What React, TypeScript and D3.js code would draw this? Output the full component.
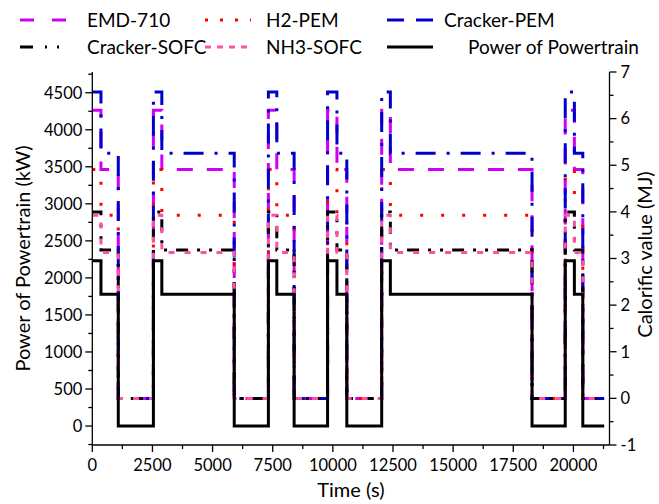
import React from "react";
import * as d3 from "d3";

// Step boundaries of the driving cycle (s)
const stepTimes = [0, 360, 1080, 2540, 2890, 5900, 7320, 7670, 8390, 9780, 10170, 10580, 12030, 12390, 18280, 19660, 20040, 20390, 21280];

// Values per segment
const powertrainKW = [2230, 1780, 0, 2230, 1780, 0, 2230, 1780, 0, 2230, 1780, 0, 2230, 1780, 0, 2230, 1780, 0];
const emd710MJ = [6.18, 4.91, 0, 6.18, 4.91, 0, 6.18, 4.91, 0, 6.18, 4.91, 0, 6.18, 4.91, 0, 6.18, 4.91, 0];
const h2PemMJ = [4.91, 3.93, 0, 4.91, 3.93, 0, 4.91, 3.93, 0, 4.91, 3.93, 0, 4.91, 3.93, 0, 4.91, 3.93, 0];
const crackerPemMJ = [6.57, 5.26, 0, 6.57, 5.26, 0, 6.57, 5.26, 0, 6.57, 5.26, 0, 6.57, 5.26, 0, 6.57, 5.26, 0];
const crackerSofcMJ = [4.0, 3.18, 0, 4.0, 3.18, 0, 4.0, 3.18, 0, 4.0, 3.18, 0, 4.0, 3.18, 0, 4.0, 3.18, 0];
const nh3SofcMJ = [3.93, 3.13, 0, 3.93, 3.13, 0, 3.93, 3.13, 0, 3.93, 3.13, 0, 3.93, 3.13, 0, 3.93, 3.13, 0];

const xTicks = [0, 2500, 5000, 7500, 10000, 12500, 15000, 17500, 20000];
const leftTicks = [0, 500, 1000, 1500, 2000, 2500, 3000, 3500, 4000, 4500];
const rightTicks = [-1, 0, 1, 2, 3, 4, 5, 6, 7];

const W = 659, H = 504;
const L = 92.3, R = 609.5, T = 72, B = 445;
const FONT = "Lato, 'Open Sans', sans-serif";

type S = { name: string; values: number[]; axis: "left" | "right"; color: string; dash: string; width: number };

const series: S[] = [
  { name: "EMD-710", values: emd710MJ, axis: "right", color: "#D000F8", dash: "16 14", width: 3 },
  { name: "H2-PEM", values: h2PemMJ, axis: "right", color: "#FF0000", dash: "3 18", width: 3 },
  { name: "Cracker-PEM", values: crackerPemMJ, axis: "right", color: "#0000CC", dash: "20 11 3 11", width: 3 },
  { name: "Cracker-SOFC", values: crackerSofcMJ, axis: "right", color: "#000000", dash: "12 9 3 9 3 9", width: 3 },
  { name: "NH3-SOFC", values: nh3SofcMJ, axis: "right", color: "#FF50A8", dash: "6 10", width: 3 },
  { name: "Power of Powertrain", values: powertrainKW, axis: "left", color: "#000000", dash: "", width: 3 },
];

const legendOrder = ["EMD-710", "H2-PEM", "Cracker-PEM", "Cracker-SOFC", "NH3-SOFC", "Power of Powertrain"];
const legendDash: Record<string, string> = {
  "EMD-710": "14 18",
  "H2-PEM": "3 12",
  "Cracker-PEM": "17 12",
  "Cracker-SOFC": "13 12 2 10 2 10",
  "NH3-SOFC": "6 6",
  "Power of Powertrain": "",
};

export default function App() {
  const x = d3.scaleLinear().domain([0, 21500]).range([L, R]);
  const yL = d3.scaleLinear().domain([-256, 4780]).range([B, T]);
  const yR = d3.scaleLinear().domain([-1, 7]).range([B, T]);

  const pathFor = (s: S) => {
    const y = s.axis === "left" ? yL : yR;
    const pts: [number, number][] = s.values.map((v, i) => [stepTimes[i], v]);
    pts.push([stepTimes[stepTimes.length - 1], s.values[s.values.length - 1]]);
    return d3.line<[number, number]>().x(d => x(d[0])).y(d => y(d[1])).curve(d3.curveStepAfter)(pts) || "";
  };

  const xMinor = d3.range(0, 21500, 1250);
  const lMinor = d3.range(-250, 4780, 250);
  const rMinor = d3.range(-1, 7.01, 0.5);

  const legendCols = [
    { sx: 20, tx: 87 },
    { sx: 205, tx: 266 },
    { sx: 387, tx: 444 },
  ];
  const legendRows = [20, 47];

  return (
    <svg width={W} height={H} style={{ position: "absolute", left: 0, top: 0, background: "#fff" }} fontFamily={FONT}>
      <rect width={W} height={H} fill="#fff" />
      {/* data lines */}
      {series.filter(s => s.axis === "right").map(s => (
        <path key={s.name} d={pathFor(s)} fill="none" stroke={s.color} strokeWidth={s.width} strokeDasharray={s.dash || undefined} strokeLinejoin="miter" />
      ))}
      {series.filter(s => s.axis === "left").map(s => (
        <path key={s.name} d={pathFor(s)} fill="none" stroke={s.color} strokeWidth={s.width} strokeLinejoin="miter" />
      ))}

      {/* axes lines */}
      <line x1={L} x2={L} y1={T} y2={B} stroke="#000" strokeWidth={1.3} />
      <line x1={R} x2={R} y1={T} y2={B} stroke="#000" strokeWidth={1.3} />
      <line x1={L} x2={R} y1={B} y2={B} stroke="#000" strokeWidth={1.3} />

      {/* x ticks */}
      {xMinor.map(t => (
        <line key={"xm" + t} x1={x(t)} x2={x(t)} y1={B} y2={B + (t % 2500 === 0 ? 7 : 4)} stroke="#000" strokeWidth={1.3} />
      ))}
      {xTicks.map(t => (
        <text key={"xt" + t} x={x(t)} y={B + 26} textAnchor="middle" fontSize={16.5}>{t}</text>
      ))}

      {/* left ticks */}
      {lMinor.map(v => (
        <line key={"lm" + v} x1={L} x2={L - (v % 500 === 0 ? 7 : 4)} y1={yL(v)} y2={yL(v)} stroke="#000" strokeWidth={1.3} />
      ))}
      {leftTicks.map(v => (
        <text key={"lt" + v} x={L - 10} y={yL(v)} dy="0.35em" textAnchor="end" fontSize={16.5}>{v}</text>
      ))}

      {/* right ticks */}
      {rMinor.map(v => (
        <line key={"rm" + v} x1={R} x2={R + (Math.abs(v % 1) < 1e-6 ? 7 : 4)} y1={yR(v)} y2={yR(v)} stroke="#000" strokeWidth={1.3} />
      ))}
      {rightTicks.map(v => (
        <text key={"rt" + v} x={R + 11} y={yR(v)} dy="0.35em" textAnchor="start" fontSize={16.5}>{v}</text>
      ))}

      {/* axis titles */}
      <text x={(L + R) / 2} y={497} textAnchor="middle" fontSize={20}>Time (s)</text>
      <text transform={`translate(30,${(T + B) / 2}) rotate(-90)`} textAnchor="middle" fontSize={20}>Power of Powertrain (kW)</text>
      <text transform={`translate(652,${(T + B) / 2 - 4}) rotate(-90)`} textAnchor="middle" fontSize={20}>Calorific value (MJ)</text>

      {/* legend */}
      {legendOrder.map((name, i) => {
        const s = series.find(q => q.name === name)!;
        const col = legendCols[i % 3];
        const ry = legendRows[Math.floor(i / 3)];
        const tx = name === "Power of Powertrain" ? col.tx + 24 : col.tx;
        return (
          <g key={"lg" + name}>
            <line x1={col.sx} x2={col.sx + 46} y1={ry} y2={ry} stroke={s.color} strokeWidth={3} strokeDasharray={legendDash[name] || undefined} />
            <text x={tx} y={ry} dy="0.35em" fontSize={19}>{name}</text>
          </g>
        );
      })}
    </svg>
  );
}
